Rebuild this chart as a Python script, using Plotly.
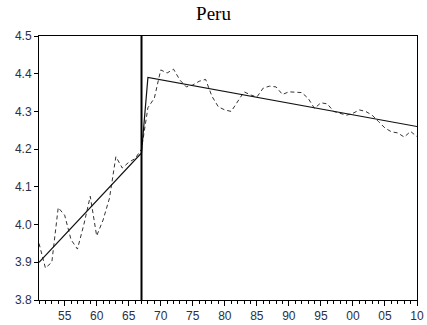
import plotly.graph_objects as go

years = list(range(1951, 2011))
actual = [3.95, 3.885, 3.90, 4.045, 4.025, 3.96, 3.935, 4.00, 4.075, 3.97,
          4.012, 4.07, 4.18, 4.15, 4.165, 4.175, 4.20, 4.31, 4.335, 4.41,
          4.402, 4.412, 4.383, 4.365, 4.37, 4.38, 4.385, 4.34, 4.312, 4.304,
          4.30, 4.325, 4.352, 4.344, 4.338, 4.362, 4.367, 4.365, 4.345, 4.352,
          4.352, 4.35, 4.335, 4.308, 4.323, 4.32, 4.30, 4.295, 4.29, 4.295,
          4.304, 4.30, 4.29, 4.273, 4.256, 4.246, 4.243, 4.232, 4.247, 4.233]
trend_years = [1951, 1967, 1968, 2010]
trend_vals = [3.90, 4.19, 4.39, 4.26]
break_year = 1967
xtick_vals = [1955, 1960, 1965, 1970, 1975, 1980, 1985, 1990, 1995, 2000, 2005, 2010]
xtick_text = ["55", "60", "65", "70", "75", "80", "85", "90", "95", "00", "05", "10"]
ytick_vals = [3.8, 3.9, 4.0, 4.1, 4.2, 4.3, 4.4, 4.5]
ytick_text = ["3.8", "3.9", "4.0", "4.1", "4.2", "4.3", "4.4", "4.5"]

fig = go.Figure()
fig.add_trace(go.Scatter(x=years, y=actual, mode="lines",
                         line=dict(color="#333333", width=1, dash="4px,3px"),
                         showlegend=False, hoverinfo="skip"))
fig.add_trace(go.Scatter(x=trend_years, y=trend_vals, mode="lines",
                         line=dict(color="#111111", width=1.2),
                         showlegend=False, hoverinfo="skip"))
fig.add_shape(type="line", xref="x", yref="paper", x0=break_year, x1=break_year,
              y0=0, y1=1, line=dict(color="black", width=2))

fig.update_layout(
    width=427, height=325,
    margin=dict(l=39, r=10, t=36, b=25, autoexpand=False),
    paper_bgcolor="white", plot_bgcolor="white",
    title=dict(text="Peru", x=0.5, xanchor="center", y=1 - 13 / 325, yanchor="middle",
               font=dict(family="Liberation Serif", size=19, color="black")),
    font=dict(family="Liberation Sans", size=12, color="#2b2f45"),
)
fig.update_xaxes(range=[1951, 2010], tickvals=xtick_vals, ticktext=xtick_text,
                 ticks="outside", ticklen=5, tickcolor="black", tickwidth=1,
                 showline=True, linecolor="black", linewidth=1, mirror=True,
                 showgrid=False, zeroline=False, automargin=False,
                 minor=dict(dtick=1, tick0=1951, ticks="outside", ticklen=3,
                            tickcolor="black", showgrid=False))
fig.update_yaxes(range=[3.8, 4.5], tickvals=ytick_vals, ticktext=ytick_text,
                 ticks="outside", ticklen=4, tickcolor="black",
                 showline=True, linecolor="black", linewidth=1, mirror=True,
                 showgrid=False, zeroline=False, automargin=False)

fig.write_html("out.html", config={"displayModeBar": False},
               post_script="document.body.style.margin='0';document.body.style.overflow='hidden';")
